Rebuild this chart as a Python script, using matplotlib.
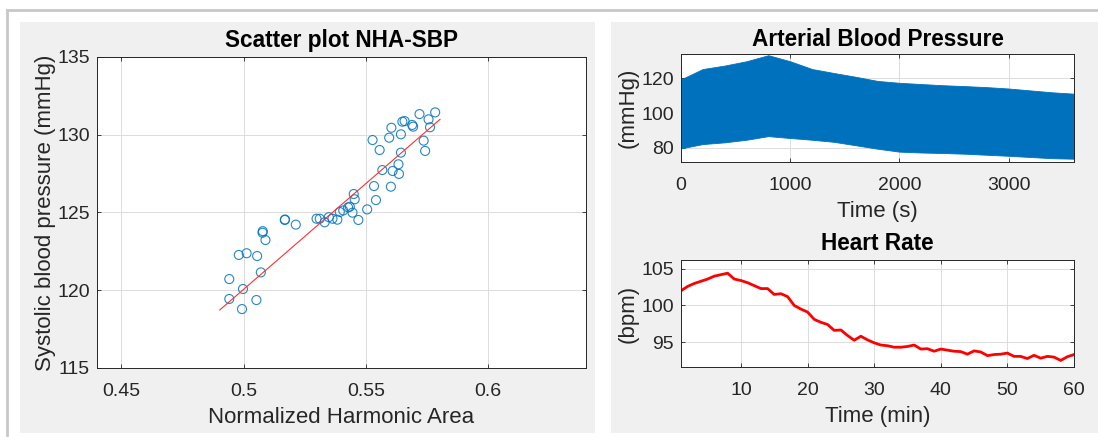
import numpy as np
import matplotlib.pyplot as plt
from matplotlib.patches import Rectangle
from matplotlib.lines import Line2D

plt.rcParams['font.family'] = ['Liberation Sans', 'DejaVu Sans']

# Scatter data: normalized harmonic area vs systolic pressure
nha = [0.4941, 0.4941, 0.4993, 0.4997, 0.4980, 0.5012, 0.5055, 0.5052, 0.5070, 0.5077,
       0.5078, 0.5089, 0.5168, 0.5169, 0.5213, 0.5298, 0.5311, 0.5331, 0.5348, 0.5363,
       0.5383, 0.5393, 0.5407, 0.5427, 0.5434, 0.5445, 0.5450, 0.5454, 0.5469, 0.5505,
       0.5533, 0.5541, 0.5527, 0.5556, 0.5567, 0.5595, 0.5604, 0.5602, 0.5609, 0.5633,
       0.5635, 0.5643, 0.5643, 0.5649, 0.5658, 0.5689, 0.5693, 0.5719, 0.5736, 0.5742,
       0.5756, 0.5762, 0.5783]
sbp = [120.72, 119.44, 118.79, 120.08, 122.27, 122.38, 122.20, 119.37, 121.15, 123.70,
       123.80, 123.23, 124.52, 124.55, 124.22, 124.60, 124.60, 124.37, 124.70, 124.60,
       124.54, 125.03, 125.13, 125.33, 125.37, 124.99, 126.19, 125.85, 124.52, 125.20,
       126.70, 125.80, 129.66, 129.02, 127.73, 129.81, 130.45, 126.66, 127.67, 128.10,
       127.48, 130.03, 128.85, 130.84, 130.88, 130.63, 130.52, 131.33, 129.62, 128.96,
       130.99, 130.48, 131.44]
fit_x = [0.4902, 0.5803]
fit_y = [118.73, 130.99]

# Arterial blood pressure envelopes (systolic / diastolic), every 200 s
abp_t = [0, 200, 400, 600, 800, 1000, 1200, 1400, 1600, 1800,
         2000, 2200, 2400, 2600, 2800, 3000, 3200, 3400, 3600]
abp_sys = [119.5, 125.5, 127.5, 130.0, 133.5, 130.0, 125.5, 123.2, 121.0, 118.6,
           117.5, 116.8, 116.1, 115.6, 115.0, 114.2, 113.1, 112.0, 111.2]
abp_dia = [79.5, 82.0, 83.0, 84.5, 86.6, 85.5, 84.5, 83.3, 81.3, 79.3,
           77.6, 77.1, 76.8, 76.4, 75.8, 75.2, 74.5, 73.8, 73.5]

# Heart rate, one value per minute
hr_min = list(range(1, 61))
hr_bpm = [102.0, 102.6, 103.0, 103.3, 103.6, 104.0, 104.2, 104.4, 103.6, 103.4,
          103.1, 102.7, 102.3, 102.3, 101.5, 101.6, 101.2, 100.0, 99.5, 99.1,
          98.1, 97.7, 97.4, 96.6, 96.65, 95.9, 95.25, 95.8, 95.3, 94.9,
          94.6, 94.5, 94.3, 94.3, 94.4, 94.6, 94.05, 94.1, 93.75, 94.05,
          93.9, 93.75, 93.7, 93.35, 93.8, 93.65, 93.15, 93.3, 93.35, 93.5,
          93.05, 93.05, 92.75, 93.2, 92.8, 93.05, 92.95, 92.5, 93.0, 93.3]

W, H = 1098, 437
fig = plt.figure(figsize=(W / 100, H / 100), dpi=100, facecolor='white')

def px_rect(x0, y0, x1, y1):
    return [x0 / W, 1 - y1 / H, (x1 - x0) / W, (y1 - y0) / H]

# gray panels and outer frame, kept behind the axes
for x0, x1 in [(20, 595), (611, 1098)]:
    r = px_rect(x0, 22, x1, 433)
    fig.patches.append(Rectangle((r[0], r[1]), r[2], r[3], transform=fig.transFigure,
                                 facecolor='#f0f0f0', edgecolor='none', zorder=-5))
fig.lines.append(Line2D([7 / W, 1], [1 - 10 / H, 1 - 10 / H], transform=fig.transFigure,
                        color='#c8c8c8', lw=2, zorder=-5))
fig.lines.append(Line2D([7 / W, 7 / W], [1 - 10 / H, 1 - 435 / H], transform=fig.transFigure,
                        color='#c8c8c8', lw=2, zorder=-5))

txt = '#262626'
blue = '#0072BD'
tick_fs = 14
label_fs = 16
title_fs = 16.3

def style(ax):
    ax.set_facecolor('white')
    ax.grid(True, color='#dcdcdc', lw=0.7)
    ax.set_axisbelow(True)
    ax.tick_params(direction='in', top=True, right=True, length=3, width=0.6,
                   colors=txt, labelsize=tick_fs, labelcolor=txt, pad=5)
    ax.tick_params(axis='x', pad=11)
    for s in ax.spines.values():
        s.set_color(txt)
        s.set_linewidth(0.7)

ax1 = fig.add_axes(px_rect(97, 57, 586, 368))
style(ax1)
ax1.scatter(nha, sbp, s=42, facecolors='none', edgecolors=blue, linewidths=0.8, alpha=0.85)
ax1.plot(fit_x, fit_y, color='#ff3030', lw=0.8)
ax1.set_xlim(0.44, 0.64)
ax1.set_ylim(115, 135)
ax1.set_xticks([0.45, 0.5, 0.55, 0.6])
ax1.set_xticklabels(['0.45', '0.5', '0.55', '0.6'])
ax1.set_yticks([115, 120, 125, 130, 135])
ax1.set_title('Scatter plot NHA-SBP', fontsize=title_fs, fontweight='bold', color='black', pad=7)
ax1.set_xlabel('Normalized Harmonic Area', fontsize=label_fs, color=txt, labelpad=5)
ax1.set_ylabel('Systolic blood pressure (mmHg)', fontsize=label_fs, color=txt, labelpad=1)

ax2 = fig.add_axes(px_rect(681, 54, 1074, 162))
style(ax2)
ax2.fill_between(abp_t, abp_dia, abp_sys, color=blue, lw=0.6, edgecolor=blue)
ax2.set_xlim(0, 3600)
ax2.set_ylim(71.6, 134.2)
ax2.set_xticks([0, 1000, 2000, 3000])
ax2.set_yticks([80, 100, 120])
ax2.set_title('Arterial Blood Pressure', fontsize=title_fs, fontweight='bold', color='black', pad=6)
ax2.set_xlabel('Time (s)', fontsize=label_fs, color=txt, labelpad=5)
ax2.set_ylabel('(mmHg)', fontsize=label_fs, color=txt, labelpad=2)

ax3 = fig.add_axes(px_rect(681, 260, 1074, 367))
style(ax3)
ax3.plot(hr_min, hr_bpm, color='#ff0000', lw=2)
ax3.set_xlim(1, 60)
ax3.set_ylim(91.6, 106.2)
ax3.set_xticks([10, 20, 30, 40, 50, 60])
ax3.set_yticks([95, 100, 105])
ax3.set_title('Heart Rate', fontsize=title_fs, fontweight='bold', color='black', pad=7)
ax3.set_xlabel('Time (min)', fontsize=label_fs, color=txt, labelpad=5)
ax3.set_ylabel('(bpm)', fontsize=label_fs, color=txt, labelpad=2)

fig.savefig('out.png', dpi=100, facecolor='white')
